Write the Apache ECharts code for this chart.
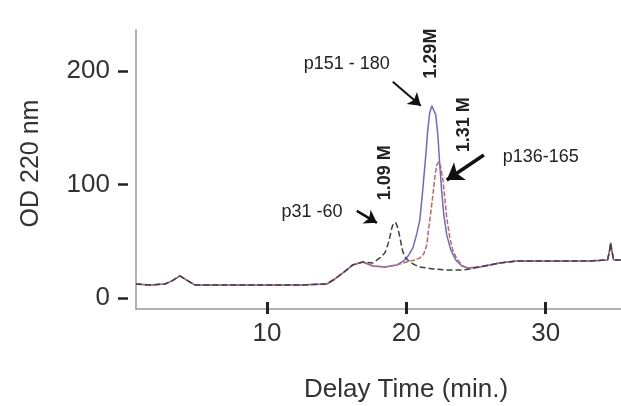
<!DOCTYPE html>
<html>
<head>
<meta charset="utf-8">
<script src="https://cdn.jsdelivr.net/npm/echarts@6/dist/echarts.min.js"></script>
<style>html,body{margin:0;padding:0;background:#fff;}#c{width:621px;height:406px;}</style>
</head>
<body>
<div id="c"></div>
<script>
// ---- data (Delay Time in min, OD 220 nm) ----
var headTimes = [0.61,1.61,2.69,3.19,3.76,4.34,4.84,5.91,8.78,12.37,14.30,14.87,15.45,16.16,16.88];
var headOD    = [12.5,11.6,12.5,15.2,19.6,15.2,11.6,11.6,11.6,11.6,12.5,16.9,22.2,29.3,31.9];

var tailTimes = [25.27,26.70,27.92,29.07,31.51,33.15,34.44];
var tailOD    = [27.5,31.0,32.8,32.8,32.8,32.8,33.7];

var p31Times = [17.60,18.10,18.46,18.67,18.82,18.96,19.10,19.25,19.39,19.53,19.75,19.96,20.25,20.61,20.97,21.90,22.90,24.05,24.55];
var p31OD    = [31.0,35.4,39.8,46.9,53.9,61.9,66.3,66.3,61.9,53.9,40.7,35.4,31.9,29.3,27.5,25.7,24.8,24.8,25.7];
var endTimes = [34.59,34.66,34.73,34.87,35.38];
var endOD    = [42.5,48.6,42.5,33.7,33.7];

var p151Times = [17.60,18.46,19.32,19.82,20.18,20.47,20.75,20.97,21.18,21.40,21.54,21.68,21.83,21.97,22.11,22.26,22.40,22.54,22.69,22.90,23.19,23.55,23.98,24.41];
var p151OD    = [28.4,27.5,29.3,32.8,38.1,44.2,56.6,68.9,95.3,126.2,148.2,163.2,169.3,168.5,161.4,143.8,117.4,93.6,73.3,55.7,42.5,33.7,28.4,26.6];

var p136Times = [17.60,18.46,19.32,20.04,20.61,20.97,21.25,21.47,21.61,21.76,21.90,22.04,22.19,22.33,22.47,22.62,22.76,22.90,23.12,23.33,23.62,24.05,24.41];
var p136OD    = [28.4,27.5,29.3,31.9,33.7,35.4,38.9,46.9,61.9,76.0,90.0,105.9,117.4,120.0,115.6,104.2,88.3,70.7,53.0,42.5,34.5,28.4,26.6];

var xTicks = [10, 20, 30];
var yTicks = [0, 100, 200];

// annotations
var annoTexts = ['p151 - 180', '1.29M', '1.31 M', 'p136-165', '1.09 M', 'p31 -60'];
var annoTimes = [15.73, 21.76, 24.12, 29.64, 18.46, 13.23];
var annoOD    = [206.3, 215.2, 152.6, 124.4, 110.3, 76.0];
// arrows: from (t0,v0) to (t1,v1)
var arrowFromT = [19.03, 25.56, 16.45];
var arrowFromV = [190.5, 126.0, 76.8];
var arrowToT   = [21.04, 22.90, 17.89];
var arrowToV   = [169.3, 104.0, 66.3];

function zip(a, b) { return a.map(function (v, i) { return [v, b[i]]; }); }

var blackData = zip(headTimes, headOD).concat(zip(p31Times, p31OD), zip(tailTimes, tailOD), zip(endTimes, endOD));
var blueData  = zip(headTimes, headOD).concat(zip(p151Times, p151OD), zip(tailTimes, tailOD), zip(endTimes, endOD));
var redData   = zip(headTimes, headOD).concat(zip(p136Times, p136OD), zip(tailTimes, tailOD), zip(endTimes, endOD));

var FONT = 'Liberation Sans';
var isBold = [false, true, true, false, true, false];
var markPoints = annoTexts.map(function (t, i) {
  return {
    coord: [annoTimes[i], annoOD[i]],
    symbol: 'circle', symbolSize: 0,
    label: {
      show: true, position: 'inside', formatter: t,
      rotate: isBold[i] ? 90 : 0,
      fontFamily: FONT, fontSize: 18,
      fontWeight: isBold[i] ? 'bold' : 'normal',
      color: '#222'
    }
  };
});
var arrowWidths = [2, 3.5, 2.5];
var arrowHeads = [12, 16, 12];
var markLines = arrowFromT.map(function (t, i) {
  return [
    { coord: [t, arrowFromV[i]], symbol: 'none',
      lineStyle: { width: arrowWidths[i], color: '#111', type: 'solid' } },
    { coord: [arrowToT[i], arrowToV[i]], symbol: 'arrow', symbolSize: arrowHeads[i] }
  ];
});

var YMIN = -9.5, YMAX = 236, XMIN = 0.61, XMAX = 35.4;

var chart = echarts.init(document.getElementById('c'), null, { renderer: 'canvas' });
chart.setOption({
  animation: false,
  backgroundColor: '#fff',
  grid: { left: 136, right: 0, top: 30, bottom: 97, containLabel: false, outerBoundsMode: 'none' },
  xAxis: [{
    type: 'value', min: XMIN, max: XMAX,
    axisLine: { show: true, onZero: false, lineStyle: { color: '#999', width: 1.5 } },
    axisTick: { show: true, customValues: xTicks, length: 5, lineStyle: { color: '#222', width: 3 } },
    axisLabel: { show: true, customValues: xTicks, margin: 12, fontFamily: FONT, fontSize: 26, color: '#333' },
    splitLine: { show: false },
    name: 'Delay Time (min.)', nameLocation: 'middle', nameGap: 68,
    nameTextStyle: { fontFamily: FONT, fontSize: 26, color: '#333', padding: [0, 0, 0, 55] }
  }, {
    type: 'value', min: XMIN, max: XMAX, position: 'bottom',
    axisLine: { show: false, onZero: false },
    axisTick: { show: true, inside: true, customValues: xTicks, length: 7, lineStyle: { color: '#222', width: 3 } },
    axisLabel: { show: false },
    splitLine: { show: false }
  }],
  yAxis: [{
    type: 'value', min: YMIN, max: YMAX,
    axisLine: { show: true, onZero: false, lineStyle: { color: '#999', width: 1.5 } },
    axisTick: { show: false },
    axisLabel: { show: false },
    splitLine: { show: false },
    name: 'OD 220 nm', nameLocation: 'middle', nameGap: 92, nameRotate: 90,
    nameTextStyle: { fontFamily: FONT, fontSize: 25, color: '#333', padding: [0, 0, 0, 12] }
  }, {
    type: 'value', min: YMIN, max: YMAX, position: 'left', offset: 8,
    axisLine: { show: false, onZero: false },
    axisTick: { show: true, customValues: yTicks, length: 10, lineStyle: { color: '#222', width: 2.5 } },
    axisLabel: { show: true, customValues: yTicks, margin: 18, fontFamily: FONT, fontSize: 26, color: '#333' },
    splitLine: { show: false }
  }],
  series: [{
    name: 'p151-180', type: 'line', data: blueData, showSymbol: false, symbol: 'none',
    lineStyle: { color: '#6a6ad0', width: 1.5 }, z: 2
  }, {
    name: 'p136-165', type: 'line', data: redData, showSymbol: false, symbol: 'none',
    lineStyle: { color: '#c86464', width: 1.5, type: [5, 2] }, z: 3
  }, {
    name: 'p31-60', type: 'line', data: blackData, showSymbol: false, symbol: 'none',
    lineStyle: { color: '#404040', width: 1.5, type: [6, 3] }, z: 4,
    markPoint: { silent: true, data: markPoints },
    markLine: { silent: true, symbol: ['none', 'arrow'], label: { show: false }, data: markLines }
  }]
});
</script>
</body>
</html>
